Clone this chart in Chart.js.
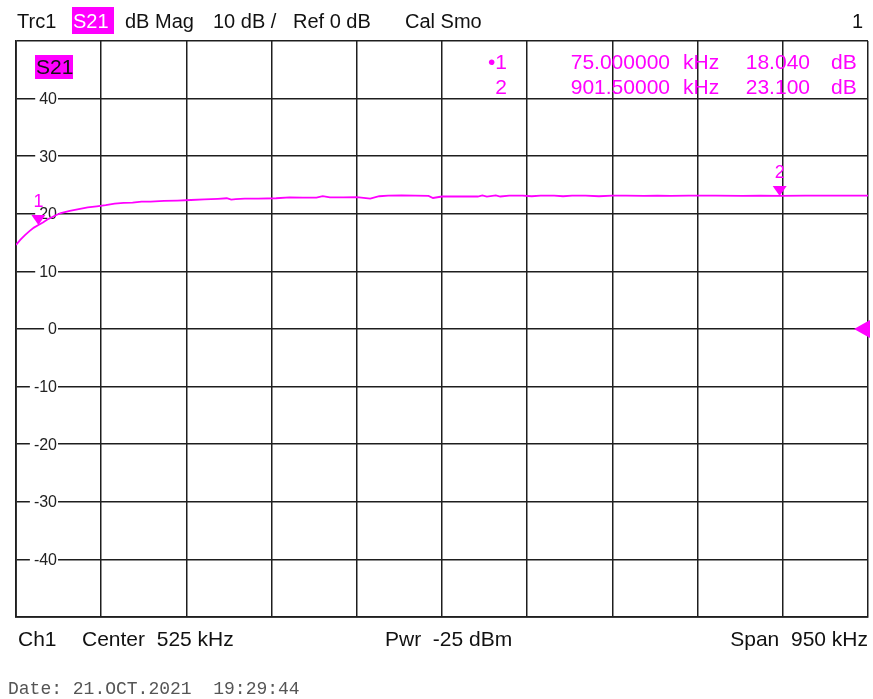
<!DOCTYPE html>
<html>
<head>
<meta charset="utf-8">
<script src="https://cdn.jsdelivr.net/npm/chart.js@4/dist/chart.umd.min.js"></script>
<style>
  html, body { margin: 0; padding: 0; background: #fff; }
  #wrap { position: relative; width: 873px; height: 699px; overflow: hidden; }
  #chart { position: absolute; left: 0; top: 0; }
  .t { position: absolute; white-space: pre; font-family: "Liberation Sans", Arial, sans-serif;
       font-size: 20px; line-height: 20px; color: #111; z-index: 2; }
  .ft { font-size: 21px; line-height: 21px; }
  .mk { color: #ff00ff; font-size: 21px; line-height: 21px; }
  .box { position: absolute; background: #ff00ff; z-index: 1; }
  .date { position: absolute; white-space: pre; font-family: "Liberation Mono", "Courier New", monospace;
          font-size: 18px; line-height: 18px; color: #555; }
</style>
</head>
<body>
<div id="wrap">
  <canvas id="chart" width="873" height="699"></canvas>

  <!-- header line -->
  <div class="t" style="left:17px;top:11px">Trc1</div>
  <div class="box" style="left:72px;top:7px;width:42px;height:27px"></div>
  <div class="t" style="left:73px;top:11px;color:#fff">S21</div>
  <div class="t" style="left:125px;top:11px">dB Mag</div>
  <div class="t" style="left:213px;top:11px">10 dB /</div>
  <div class="t" style="left:293px;top:11px">Ref 0 dB</div>
  <div class="t" style="left:405px;top:11px">Cal Smo</div>
  <div class="t" style="right:10px;top:11px">1</div>

  <!-- trace label -->
  <div class="box" style="left:35px;top:55px;width:38px;height:24px"></div>
  <div class="t" style="left:36px;top:57px;font-size:21px">S21</div>

  <!-- marker table -->
  <div class="t mk" style="right:366px;top:51px">&bull;1</div>
  <div class="t mk" style="right:203px;top:51px">75.000000</div>
  <div class="t mk" style="left:683px;top:51px">kHz</div>
  <div class="t mk" style="right:63px;top:51px">18.040</div>
  <div class="t mk" style="left:831px;top:51px">dB</div>
  <div class="t mk" style="right:366px;top:76px">2</div>
  <div class="t mk" style="right:203px;top:76px">901.50000</div>
  <div class="t mk" style="left:683px;top:76px">kHz</div>
  <div class="t mk" style="right:63px;top:76px">23.100</div>
  <div class="t mk" style="left:831px;top:76px">dB</div>

  <!-- footer -->
  <div class="t ft" style="left:18px;top:628px">Ch1</div>
  <div class="t ft" style="left:82px;top:628px">Center  525 kHz</div>
  <div class="t ft" style="left:385px;top:628px">Pwr  -25 dBm</div>
  <div class="t ft" style="right:5px;top:628px">Span  950 kHz</div>
  <div class="date" style="left:8px;top:680px">Date: 21.OCT.2021  19:29:44</div>
</div>

<script>
/* ================================
   Data
   ================================ */
const freqKHz = [50, 55, 60, 65, 70, 75, 80, 85, 90, 95, 100, 110, 120, 130, 140, 150, 160, 170, 180, 190,
  200, 215, 230, 245, 260, 275, 285, 290, 295, 305, 320, 340, 355, 370, 385, 392, 400, 415, 430, 445,
  455, 465, 480, 495, 510, 515, 525, 545, 565, 570, 575, 585, 590, 600, 615, 625, 635, 650, 660, 670,
  685, 700, 715, 730, 750, 765, 780, 800, 830, 860, 880, 901.5, 930, 960, 1000];
const s21dB = [14.6, 15.5, 16.3, 17.0, 17.6, 18.04, 18.5, 19.0, 19.4, 19.8, 20.1, 20.5, 20.8, 21.1, 21.3, 21.5, 21.75, 21.9, 21.95, 22.1,
  22.1, 22.25, 22.3, 22.4, 22.5, 22.6, 22.7, 22.45, 22.55, 22.65, 22.65, 22.7, 22.85, 22.8, 22.8, 23.05, 22.85, 22.85, 22.9, 22.65,
  23.05, 23.15, 23.2, 23.15, 23.1, 22.75, 23.0, 23.0, 23.0, 23.2, 23.0, 23.2, 23.0, 23.15, 23.15, 23.05, 23.15, 23.15, 23.05, 23.15,
  23.15, 23.05, 23.15, 23.15, 23.1, 23.15, 23.1, 23.15, 23.15, 23.1, 23.15, 23.1, 23.15, 23.15, 23.15];

const markerNames = ["1", "2"];
const markerFreq = [75, 901.5];
const markerDb = [18.04, 23.1];

const xGrid = [50, 145, 240, 335, 430, 525, 620, 715, 810, 905, 1000];
const yGrid = [-50, -40, -30, -20, -10, 0, 10, 20, 30, 40, 50];
const yTickLabels = [40, 30, 20, 10, 0, -10, -20, -30, -40];
const refLevel = 0;

const MAGENTA = "#ff00ff";
const GRID = "#1e1e1e";

/* ================================
   Overlay plugin: y labels, markers, ref arrow
   ================================ */
const vnaOverlay = {
  id: "vnaOverlay",
  beforeDatasetsDraw(chart) {
    const ctx = chart.ctx;
    const y = chart.scales.y;
    ctx.save();
    ctx.font = "16px 'Liberation Sans', Arial, sans-serif";
    ctx.textAlign = "right";
    ctx.textBaseline = "middle";
    yTickLabels.forEach(v => {
      const py = y.getPixelForValue(v);
      const txt = String(v);
      const w = ctx.measureText(txt).width;
      ctx.fillStyle = "#fff";
      ctx.fillRect(57 - w - 4, py - 8, w + 5, 16);
      ctx.fillStyle = "#222";
      ctx.fillText(txt, 57, py + 1);
    });
    ctx.restore();
  },
  afterDatasetsDraw(chart) {
    const ctx = chart.ctx;
    const x = chart.scales.x;
    const y = chart.scales.y;
    const area = chart.chartArea;
    ctx.save();
    ctx.fillStyle = MAGENTA;
    ctx.font = "18px 'Liberation Sans', Arial, sans-serif";
    ctx.textAlign = "center";
    ctx.textBaseline = "alphabetic";
    markerFreq.forEach((f, i) => {
      const px = x.getPixelForValue(f);
      const py = y.getPixelForValue(markerDb[i]);
      ctx.beginPath();
      ctx.moveTo(px - 7, py - 10);
      ctx.lineTo(px + 7, py - 10);
      ctx.lineTo(px, py);
      ctx.closePath();
      ctx.fill();
      ctx.fillText(markerNames[i], px, py - 18);
    });
    // reference level arrow on right edge
    const ry = y.getPixelForValue(refLevel);
    ctx.beginPath();
    ctx.moveTo(area.right - 14, ry);
    ctx.lineTo(area.right + 2, ry - 9);
    ctx.lineTo(area.right + 2, ry + 9);
    ctx.closePath();
    ctx.fill();
    ctx.restore();
  }
};

/* ================================
   Chart
   ================================ */
new Chart(document.getElementById("chart"), {
  type: "line",
  data: {
    datasets: [{
      label: "S21",
      data: freqKHz.map((f, i) => ({ x: f, y: s21dB[i] })),
      borderColor: MAGENTA,
      borderWidth: 1.8,
      pointRadius: 0,
      tension: 0,
      fill: false
    }]
  },
  options: {
    responsive: false,
    animation: false,
    layout: { padding: { left: 16, top: 41, right: 5, bottom: 82 } },
    plugins: { legend: { display: false }, tooltip: { enabled: false } },
    scales: {
      x: {
        type: "linear",
        min: 50,
        max: 1000,
        afterBuildTicks: s => { s.ticks = xGrid.map(v => ({ value: v })); },
        afterFit: s => { s.height = 0; },
        ticks: { display: false },
        grid: { color: GRID, lineWidth: 1.5, drawTicks: false },
        border: { display: true, color: GRID, width: 1.8 }
      },
      y: {
        type: "linear",
        min: -50,
        max: 50,
        afterBuildTicks: s => { s.ticks = yGrid.map(v => ({ value: v })); },
        afterFit: s => { s.width = 0; },
        ticks: { display: false },
        grid: { color: GRID, lineWidth: 1.5, drawTicks: false },
        border: { display: true, color: GRID, width: 1.8 }
      }
    }
  },
  plugins: [vnaOverlay]
});
</script>
</body>
</html>
